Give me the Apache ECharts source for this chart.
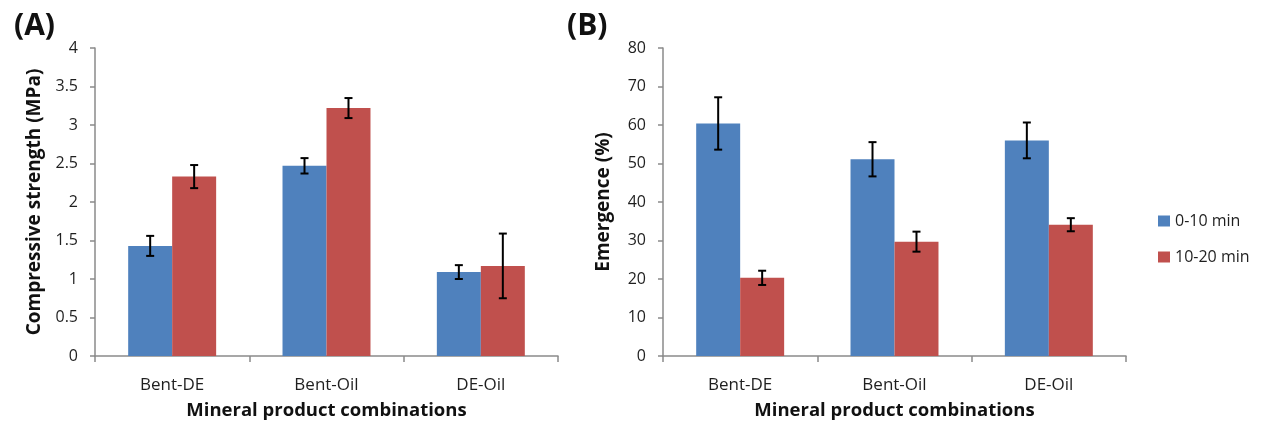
<!DOCTYPE html>
<html>
<head>
<meta charset="utf-8">
<script src="https://cdn.jsdelivr.net/npm/echarts@6/dist/echarts.min.js"></script>
<style>
  html, body { margin: 0; padding: 0; background: #fff; }
  #chart { width: 1262px; height: 423px; }
</style>
</head>
<body>
<div id="chart"></div>
<script>
// ---- data ----
const categories = ['Bent-DE', 'Bent-Oil', 'DE-Oil'];
const seriesNames = ['0-10 min', '10-20 min'];

// Panel A: Compressive strength (MPa)
const strength0to10 = [1.43, 2.47, 1.09];
const strength0to10Err = [0.13, 0.10, 0.09];
const strength10to20 = [2.33, 3.22, 1.17];
const strength10to20Err = [0.15, 0.13, 0.42];

// Panel B: Emergence (%)
const emergence0to10 = [60.4, 51.1, 56.0];
const emergence0to10Err = [6.8, 4.45, 4.65];
const emergence10to20 = [20.3, 29.7, 34.1];
const emergence10to20Err = [1.85, 2.6, 1.7];

// ---- styles ----
const FONT = '"Open Sans"';
const BLUE = '#4F81BD';
const RED = '#C0504D';
const AXIS_GREY = '#8a8a8a';
const TEXT = '#1f1f1f';
const GAP = 0.43;

function errSeries(values, errs, side, xIdx, yIdx) {
  const data = values.map((v, i) => [i, v - errs[i], v + errs[i]]);
  return {
    type: 'custom',
    xAxisIndex: xIdx,
    yAxisIndex: yIdx,
    silent: true,
    z: 5,
    encode: { x: 0, y: [1, 2] },
    data: data,
    renderItem: function (params, api) {
      const xi = api.value(0);
      const lo = api.value(1);
      const hi = api.value(2);
      const band = api.size([1, 0])[0];
      const bw = band * (1 - GAP) / 2;
      const cx = api.coord([xi, 0])[0] + side * bw / 2;
      const yLo = api.coord([xi, lo])[1];
      const yHi = api.coord([xi, hi])[1];
      const cap = 4;
      const st = { stroke: '#000', lineWidth: 2 };
      return {
        type: 'group',
        children: [
          { type: 'line', shape: { x1: cx, y1: yLo, x2: cx, y2: yHi }, style: st },
          { type: 'line', shape: { x1: cx - cap, y1: yHi, x2: cx + cap, y2: yHi }, style: st },
          { type: 'line', shape: { x1: cx - cap, y1: yLo, x2: cx + cap, y2: yLo }, style: st }
        ]
      };
    }
  };
}

function xAxisCfg(gridIndex) {
  return {
    type: 'category',
    gridIndex: gridIndex,
    data: categories,
    boundaryGap: true,
    name: 'Mineral product combinations',
    nameLocation: 'middle',
    nameGap: 45,
    nameTextStyle: { fontFamily: FONT, fontWeight: 'bold', fontSize: 18.5, color: '#111' },
    axisLine: { lineStyle: { color: AXIS_GREY, width: 1.5 } },
    axisTick: { show: true, alignWithLabel: false, length: 6, lineStyle: { color: AXIS_GREY, width: 1.5 } },
    axisLabel: { fontFamily: FONT, fontSize: 17, color: TEXT, margin: 21 },
    splitLine: { show: false }
  };
}

function yAxisCfg(gridIndex, name, max, interval, nameGap) {
  return {
    type: 'value',
    gridIndex: gridIndex,
    min: 0,
    max: max,
    interval: interval,
    name: name,
    nameLocation: 'middle',
    nameGap: nameGap,
    nameTextStyle: { fontFamily: FONT, fontWeight: 'bold', fontSize: 19, color: '#111' },
    axisLine: { show: true, lineStyle: { color: AXIS_GREY, width: 1.5 } },
    axisTick: { show: true, length: 5, lineStyle: { color: AXIS_GREY, width: 1.5 } },
    axisLabel: { fontFamily: FONT, fontSize: 16, color: TEXT, margin: 17 },
    splitLine: { show: false }
  };
}

function barSeries(name, values, color, xIdx, yIdx) {
  return {
    type: 'bar',
    name: name,
    xAxisIndex: xIdx,
    yAxisIndex: yIdx,
    data: values,
    barGap: '0%',
    barCategoryGap: (GAP * 100) + '%',
    itemStyle: { color: color },
    z: 2
  };
}

const chart = echarts.init(document.getElementById('chart'), null, { renderer: 'canvas' });
chart.setOption({
  animation: false,
  backgroundColor: '#fff',
  textStyle: { fontFamily: FONT },
  title: [
    { text: '(A)', left: 9, top: 6, textStyle: { fontFamily: FONT, fontWeight: 'bold', fontSize: 30, color: '#111' } },
    { text: '(B)', left: 562, top: 6, textStyle: { fontFamily: FONT, fontWeight: 'bold', fontSize: 30, color: '#111' } }
  ],
  legend: {
    orient: 'vertical',
    left: 1158,
    top: 213,
    padding: 0,
    itemWidth: 12,
    itemHeight: 11,
    itemGap: 20,
    icon: 'rect',
    data: seriesNames,
    textStyle: { fontFamily: FONT, fontSize: 16, lineHeight: 16, color: TEXT }
  },
  grid: [
    { left: 95, top: 48, width: 463, height: 308, outerBoundsMode: 'none', containLabel: false },
    { left: 663, top: 48, width: 463, height: 308, outerBoundsMode: 'none', containLabel: false }
  ],
  xAxis: [xAxisCfg(0), xAxisCfg(1)],
  yAxis: [
    yAxisCfg(0, 'Compressive strength (MPa)', 4, 0.5, 51),
    yAxisCfg(1, 'Emergence (%)', 80, 10, 50)
  ],
  series: [
    barSeries(seriesNames[0], strength0to10, BLUE, 0, 0),
    barSeries(seriesNames[1], strength10to20, RED, 0, 0),
    barSeries(seriesNames[0], emergence0to10, BLUE, 1, 1),
    barSeries(seriesNames[1], emergence10to20, RED, 1, 1),
    errSeries(strength0to10, strength0to10Err, -1, 0, 0),
    errSeries(strength10to20, strength10to20Err, 1, 0, 0),
    errSeries(emergence0to10, emergence0to10Err, -1, 1, 1),
    errSeries(emergence10to20, emergence10to20Err, 1, 1, 1)
  ]
});
</script>
</body>
</html>
